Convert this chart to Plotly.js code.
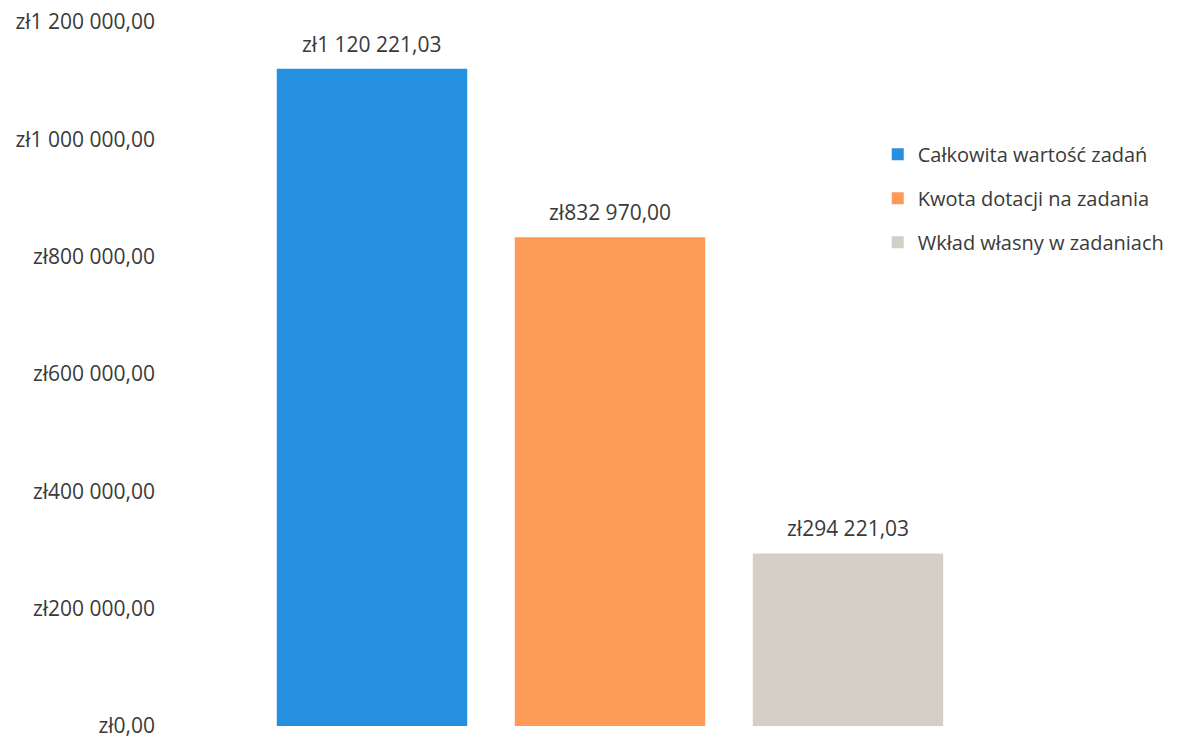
<!DOCTYPE html>
<html>
<head>
<meta charset="utf-8">
<script src="https://cdn.plot.ly/plotly-3.0.1.min.js"></script>
<style>html,body{margin:0;padding:0;background:#fff;}#chart{width:1182px;height:738px;}</style>
</head>
<body>
<div id="chart"></div>
<script>
const seriesNames = ["Całkowita wartość zadań", "Kwota dotacji na zadania", "Wkład własny w zadaniach"];
const values = [1120221.03, 832970.00, 294221.03];
const valueLabels = ["zł1 120 221,03", "zł832 970,00", "zł294 221,03"];
const seriesColors = ["#2590e0", "#fd9a58", "#d3cfc7"];
const tickVals = [0, 200000, 400000, 600000, 800000, 1000000, 1200000];
const tickText = ["zł0,00", "zł200 000,00", "zł400 000,00", "zł600 000,00", "zł800 000,00", "zł1 000 000,00", "zł1 200 000,00"];

const FONT = "Open Sans, sans-serif";
const TXT = "#3a3a3a";
const traces = seriesNames.map((n, i) => ({
  type: "bar",
  name: n,
  x: [i],
  y: [values[i]],
  width: 0.8,
  marker: {color: seriesColors[i], line: {width: 0}},
  legendgroup: "g" + i,
  hoverinfo: "skip"
}));

const annotations = values.map((v, i) => ({
  x: i, y: v, xref: "x", yref: "y",
  text: valueLabels[i], showarrow: false,
  yanchor: "bottom", yshift: 9,
  font: {family: FONT, size: 21, color: TXT}
}));

const layout = {
  width: 1182, height: 738,
  margin: {l: 253, r: 215, t: 22, b: 12},
  paper_bgcolor: "#ffffff", plot_bgcolor: "#ffffff",
  barmode: "overlay",
  showlegend: true,
  legend: {x: 0.875, y: 0.84, xanchor: "left", yanchor: "top",
    font: {family: FONT, size: 20, color: TXT},
    tracegroupgap: 15, traceorder: "grouped", itemwidth: 30, bgcolor: "rgba(0,0,0,0)"},
  xaxis: {range: [-0.5, 2.5], showticklabels: false, showgrid: false, zeroline: false, showline: false, ticks: ""},
  yaxis: {range: [0, 1200000], tickvals: tickVals, ticktext: tickText, showgrid: false, zeroline: false,
    showline: false, ticks: "", ticklabelstandoff: 97, ticklabeloverflow: "allow",
    tickfont: {family: FONT, size: 21, color: TXT}},
  annotations: annotations
};

Plotly.newPlot("chart", traces, layout, {displayModeBar: false, staticPlot: true});
</script>
</body>
</html>
